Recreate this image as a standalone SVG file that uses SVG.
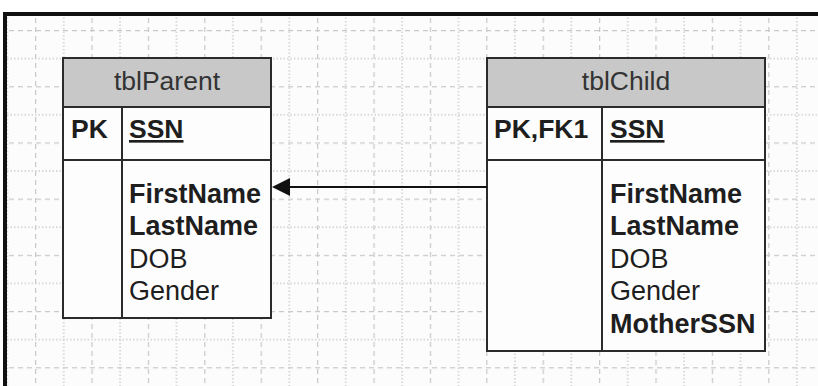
<svg xmlns="http://www.w3.org/2000/svg" width="818" height="386" viewBox="0 0 818 386">
  <defs>
    <pattern id="gridV" x="35" y="0" width="56.4" height="386" patternUnits="userSpaceOnUse">
      <line x1="0.5" y1="0" x2="0.5" y2="386" stroke="#c9c9c9" stroke-width="1.5" stroke-dasharray="5 4"/>
      <line x1="28.7" y1="0" x2="28.7" y2="386" stroke="#cfcfcf" stroke-width="1.5" stroke-dasharray="1.5 2"/>
    </pattern>
    <pattern id="gridH" x="0" y="30" width="818" height="56.2" patternUnits="userSpaceOnUse">
      <line x1="0" y1="0.5" x2="818" y2="0.5" stroke="#c9c9c9" stroke-width="1.5" stroke-dasharray="5 4"/>
      <line x1="0" y1="28.6" x2="818" y2="28.6" stroke="#cfcfcf" stroke-width="1.5" stroke-dasharray="1.5 2"/>
    </pattern>
  </defs>
  <style>
    .frame { fill: #111; }
    .tbl { fill: #fdfdfd; stroke: #2b2b2b; stroke-width: 2; }
    .hdr { fill: #c8c8c8; stroke: #2b2b2b; stroke-width: 2; }
    .ln { stroke: #2b2b2b; stroke-width: 2; }
    text { font-family: "Liberation Sans", Arial, sans-serif; font-size: 27px; fill: #1e1e1e; }
    .b { font-weight: bold; }
    .k { font-size: 26.5px; }
    .title { text-anchor: middle; fill: #333; font-size: 26.5px; }
    .u { text-decoration: underline; }
    .conn { stroke: #111; stroke-width: 2; fill: none; }
  </style>

  <rect x="0" y="0" width="818" height="386" fill="#ffffff"/>
  <rect x="5" y="14" width="813" height="372" fill="#fcfcfc"/>
  <rect x="5" y="14" width="813" height="372" fill="url(#gridV)"/>
  <rect x="5" y="14" width="813" height="372" fill="url(#gridH)"/>
  <rect class="frame" x="3" y="12" width="815" height="4"/>
  <rect class="frame" x="3" y="12" width="4" height="374"/>

  <g id="tblParent">
    <rect class="tbl" x="63" y="58" width="208" height="260"/>
    <rect class="hdr" x="63" y="58" width="208" height="49"/>
    <line class="ln" x1="63" y1="160" x2="271" y2="160"/>
    <line class="ln" x1="122" y1="107" x2="122" y2="318"/>
    <text class="title" x="167" y="90">tblParent</text>
    <text class="b k" x="71" y="138">PK</text>
    <text class="b k u" x="129" y="138">SSN</text>
    <text class="b" x="129" y="203">FirstName</text>
    <text class="b" x="129" y="235">LastName</text>
    <text x="129" y="268">DOB</text>
    <text x="129" y="300">Gender</text>
  </g>

  <g id="tblChild">
    <rect class="tbl" x="487" y="58" width="278" height="293"/>
    <rect class="hdr" x="487" y="58" width="278" height="49"/>
    <line class="ln" x1="487" y1="160" x2="765" y2="160"/>
    <line class="ln" x1="602" y1="107" x2="602" y2="351"/>
    <text class="title" x="626" y="90">tblChild</text>
    <text class="b k" x="494" y="138">PK,FK1</text>
    <text class="b k u" x="610" y="138">SSN</text>
    <text class="b" x="610" y="203">FirstName</text>
    <text class="b" x="610" y="235">LastName</text>
    <text x="610" y="268">DOB</text>
    <text x="610" y="300">Gender</text>
    <text class="b" x="610" y="333">MotherSSN</text>
  </g>

  <g id="connectors">
    <line class="conn" x1="487" y1="187" x2="290" y2="187"/>
    <path d="M272,187 L290,178 L290,196 Z" fill="#111"/>
  </g>
</svg>
